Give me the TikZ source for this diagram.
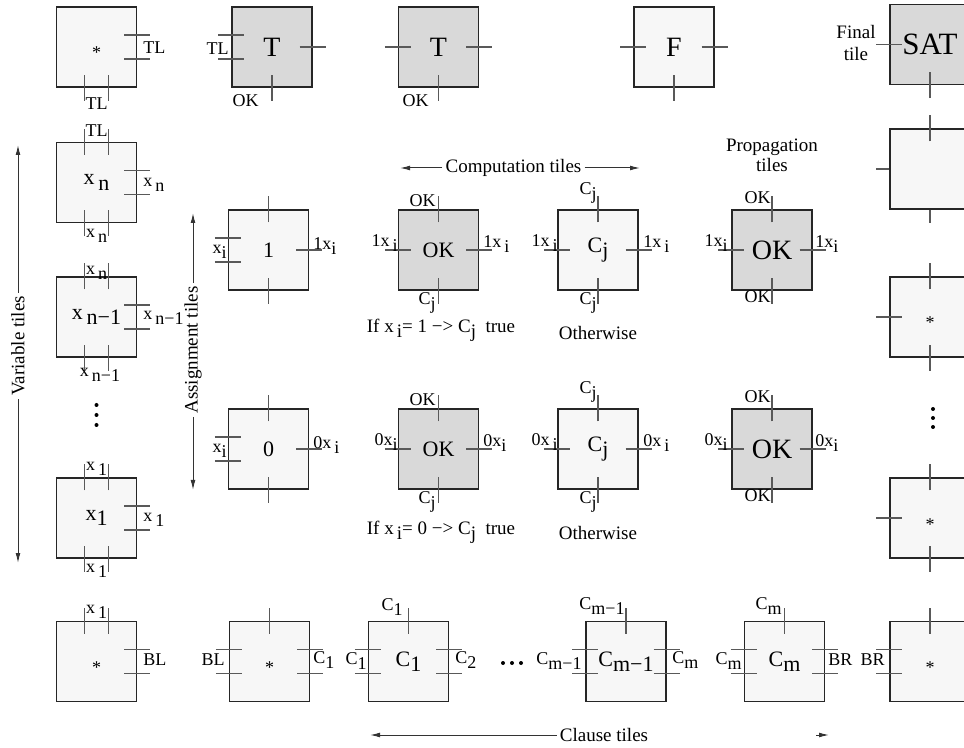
\documentclass[tikz,border=0pt]{standalone}
\usepackage{fontspec}
\setmainfont{Liberation Serif}
\usetikzlibrary{arrows.meta}

% lowered index, same size as the letter
\newcommand{\lw}[1]{\raisebox{-0.55ex}{#1}}
% single port mark across a tile side
\newcommand{\pR}[1]{\draw[port] ([xshift=-6.5pt]#1.east) -- ([xshift=6.5pt]#1.east);}
\newcommand{\pL}[1]{\draw[port] ([xshift=-6.5pt]#1.west) -- ([xshift=6.5pt]#1.west);}
\newcommand{\pT}[1]{\draw[port] ([yshift=-6.5pt]#1.north) -- ([yshift=6.5pt]#1.north);}
\newcommand{\pB}[1]{\draw[port] ([yshift=-6.5pt]#1.south) -- ([yshift=6.5pt]#1.south);}
% double port mark
\newcommand{\qR}[1]{\draw[port] ([shift={(-6.5pt,6pt)}]#1.east) -- ++(13pt,0) ([shift={(-6.5pt,-6pt)}]#1.east) -- ++(13pt,0);}
\newcommand{\qL}[1]{\draw[port] ([shift={(-6.5pt,6pt)}]#1.west) -- ++(13pt,0) ([shift={(-6.5pt,-6pt)}]#1.west) -- ++(13pt,0);}
\newcommand{\qT}[1]{\draw[port] ([shift={(-6pt,-6.5pt)}]#1.north) -- ++(0,13pt) ([shift={(6pt,-6.5pt)}]#1.north) -- ++(0,13pt);}
\newcommand{\qB}[1]{\draw[port] ([shift={(-6pt,-6.5pt)}]#1.south) -- ++(0,13pt) ([shift={(6pt,-6.5pt)}]#1.south) -- ++(0,13pt);}

\begin{document}
\begin{tikzpicture}[x=0.5pt,y=-0.5pt,
    tile/.style={draw=black!85,line width=0.6pt,fill=black!3,minimum size=40pt,inner sep=0pt},
    gtile/.style={tile,fill=black!15},
    port/.style={draw=black!65,line width=0.6pt},
    lbl/.style={inner sep=0pt,font=\fontsize{9}{10}\selectfont},
    capt/.style={inner sep=1.5pt,font=\fontsize{9.5}{10.5}\selectfont},
    arr/.style={draw=black!80,line width=0.5pt,-{Latex[length=5pt,width=2.4pt]}},
    startxt/.style={font=\fontsize{9}{9}\selectfont},
    midtxt/.style={font=\fontsize{11}{11}\selectfont},
    bigtxt/.style={font=\fontsize{14}{14}\selectfont}]
    \useasboundingbox (0,0) rectangle (964,748);

    % top row
    \node[tile,startxt] (vtop) at (96.5,47) {\raisebox{-6pt}[0pt][0pt]{*}};
    \node[gtile,bigtxt] (tt1) at (272,47) {T};
    \node[gtile,bigtxt] (tt2) at (438.5,47) {T};
    \node[tile,bigtxt] (tf) at (674,47) {F};
    \node[gtile,font=\fontsize{15.5}{15.5}\selectfont] (tsat) at (930,44.5) {SAT};
    \qR{vtop} \qB{vtop}
    \node[lbl,anchor=west] (ltla) at (143,48) {TL};
    \node[lbl] (ltlb) at (96.5,104) {TL};
    \qL{tt1} \pR{tt1} \pB{tt1}
    \node[lbl] (ltlc) at (217.5,49) {TL};
    \node[lbl,anchor=east] (loka) at (259,101) {OK};
    \pL{tt2} \pR{tt2} \pB{tt2}
    \node[lbl,anchor=east] (lokb) at (429,101) {OK};
    \pL{tf} \pR{tf} \pB{tf}
    \pL{tsat} \pB{tsat}
    \node[capt,align=center,font=\fontsize{9.5}{11}\selectfont] (final) at (856,43) {Final\\tile};

    % variable tiles
    \node[tile,midtxt] (vn) at (96.5,182.5) {x\,\lw{n}};
    \qT{vn} \qR{vn} \qB{vn}
    \node[lbl] (ltld) at (96.5,131) {TL};
    \node[lbl,anchor=west] (lxna) at (143,185) {x\,\lw{n}};
    \node[lbl] (lxnb) at (96.5,236) {x\,\lw{n}};
    \node[tile,midtxt] (vnm) at (96.5,317) {x\,\lw{n−1}};
    \qT{vnm} \qR{vnm} \qB{vnm}
    \node[lbl] (lxnc) at (96.5,273) {x\,\lw{n}};
    \node[lbl,anchor=west] (lxnma) at (143,318) {x\,\lw{n−1}};
    \node[lbl] (lxnmb) at (100,375) {x\,\lw{n−1}};
    \fill (96.5,405) circle (2) (96.5,415) circle (2) (96.5,425) circle (2);
    \node[tile,midtxt] (vone) at (96.5,518) {x\lw{1}};
    \qT{vone} \qR{vone} \qB{vone}
    \node[lbl] (lxoa) at (96.5,469) {x\,\lw{1}};
    \node[lbl,anchor=west] (lxob) at (143,520) {x\,\lw{1}};
    \node[lbl] (lxoc) at (96.5,571) {x\,\lw{1}};
    \node[tile,startxt] (vbl) at (96.5,661.5) {\raisebox{-6pt}[0pt][0pt]{*}};
    \qT{vbl} \qR{vbl}
    \node[lbl] (lxod) at (96.5,612) {x\,\lw{1}};
    \node[lbl,anchor=west] (lbla) at (143,660) {BL};

    \node[capt,rotate=90] (varl) at (18,346) {Variable tiles};
    \coordinate (varup) at (18,145);
    \coordinate (vardown) at (18,563);
    \draw[arr] (varl.east) -- (varup);
    \draw[arr] (varl.west) -- (vardown);

    % assignment tiles
    \node[capt,rotate=90] (asgl) at (193,350) {Assignment tiles};
    \coordinate (asgup) at (193,213);
    \coordinate (asgdown) at (193,490);
    \draw[arr] (asgl.east) -- (asgup);
    \draw[arr] (asgl.west) -- (asgdown);
    \node[tile,midtxt] (aone) at (268.5,250) {1};
    \pT{aone} \qL{aone} \pR{aone} \pB{aone}
    \node[lbl,anchor=east] (lxia) at (227,252) {x\lw{i}};
    \node[lbl,anchor=west] (lxib) at (313,246) {1x\lw{i}};
    \node[tile,midtxt] (azero) at (268.5,449) {0};
    \pT{azero} \qL{azero} \pR{azero} \pB{azero}
    \node[lbl,anchor=east] (lxic) at (227,451) {x\lw{i}};
    \node[lbl,anchor=west] (lxid) at (313,445) {0x\,\lw{i}};

    % computation tiles
    \node[capt] (compl) at (513.5,168) {Computation tiles};
    \coordinate (compleft) at (400,168);
    \coordinate (compright) at (640,168);
    \draw[arr] (compl.west) -- (compleft);
    \draw[arr] (compl.east) -- (compright);

    \node[gtile,midtxt] (okone) at (438.5,250) {OK};
    \pT{okone} \pL{okone} \pR{okone} \pB{okone}
    \node[lbl,anchor=east] (lokc) at (436,201) {OK};
    \node[lbl,anchor=east] (lxie) at (398,243) {1x\,\lw{i}};
    \node[lbl,anchor=west] (lxif) at (483,244) {1x\,\lw{i}};
    \node[lbl,anchor=east] (lcja) at (436,303) {C\lw{j}};
    \node[capt] (ifone) at (441,330) {If x\,\lw{i}= 1 −> C\lw{j}\ \ true};

    \node[tile,midtxt] (cjone) at (598,250) {C\lw{j}};
    \pT{cjone} \pL{cjone} \pR{cjone} \pB{cjone}
    \node[lbl,anchor=east] (lcjb) at (597,193) {C\lw{j}};
    \node[lbl,anchor=east] (lxig) at (558,243) {1x\,\lw{i}};
    \node[lbl,anchor=west] (lxih) at (643,244) {1x\,\lw{i}};
    \node[lbl,anchor=east] (lcjc) at (597,303) {C\lw{j}};
    \node[capt] (othone) at (598,333) {Otherwise};

    \node[gtile,midtxt] (okzero) at (438.5,449) {OK};
    \pT{okzero} \pL{okzero} \pR{okzero} \pB{okzero}
    \node[lbl,anchor=east] (lokd) at (436,400) {OK};
    \node[lbl,anchor=east] (lxii) at (398,442) {0x\lw{i}};
    \node[lbl,anchor=west] (lxij) at (483,443) {0x\lw{i}};
    \node[lbl,anchor=east] (lcjd) at (436,502) {C\lw{j}};
    \node[capt] (ifzero) at (441,532) {If x\,\lw{i}= 0 −> C\lw{j}\ \ true};

    \node[tile,midtxt] (cjzero) at (598,449) {C\lw{j}};
    \pT{cjzero} \pL{cjzero} \pR{cjzero} \pB{cjzero}
    \node[lbl,anchor=east] (lcje) at (597,392) {C\lw{j}};
    \node[lbl,anchor=east] (lxik) at (558,442) {0x\,\lw{i}};
    \node[lbl,anchor=west] (lxil) at (643,443) {0x\,\lw{i}};
    \node[lbl,anchor=east] (lcjf) at (597,502) {C\lw{j}};
    \node[capt] (othzero) at (598,533) {Otherwise};

    % propagation tiles
    \node[capt,align=center,font=\fontsize{9.5}{10}\selectfont] (propl) at (772,155) {Propagation\\tiles};
    \node[gtile,bigtxt] (prone) at (772,250) {OK};
    \pT{prone} \pL{prone} \pR{prone} \pB{prone}
    \node[lbl,anchor=east] (loke) at (771,198) {OK};
    \node[lbl,anchor=east] (lxim) at (728,243) {1x\lw{i}};
    \node[lbl,anchor=west] (lxin) at (815,244) {1x\lw{i}};
    \node[lbl,anchor=east] (lokf) at (771,297) {OK};
    \node[gtile,bigtxt] (przero) at (772,449) {OK};
    \pT{przero} \pL{przero} \pR{przero} \pB{przero}
    \node[lbl,anchor=east] (lokg) at (771,397) {OK};
    \node[lbl,anchor=east] (lxio) at (728,442) {0x\lw{i}};
    \node[lbl,anchor=west] (lxip) at (815,443) {0x\lw{i}};
    \node[lbl,anchor=east] (lokh) at (771,496) {OK};

    % right column
    \node[tile] (rone) at (930,169) {};
    \pT{rone}
    \draw[port] (rone.west) -- ++(-6.5pt,0);
    \draw[port] (rone.south) -- ++(0,-6.5pt);
    \node[tile,startxt] (rtwo) at (930,317) {\raisebox{-6pt}[0pt][0pt]{*}};
    \pT{rtwo} \pL{rtwo} \pB{rtwo}
    \fill (933,409) circle (2) (933,418) circle (2) (933,427) circle (2);
    \node[tile,startxt] (rthree) at (930,518) {\raisebox{-6pt}[0pt][0pt]{*}};
    \pT{rthree} \pL{rthree} \pB{rthree}
    \node[tile,startxt] (rbr) at (930,661.5) {\raisebox{-6pt}[0pt][0pt]{*}};
    \pT{rbr} \qL{rbr}
    \node[lbl,anchor=east] (lbra) at (885,660) {BR};

    % clause tiles
    \node[tile,startxt] (kbl) at (269.5,661.5) {\raisebox{-6pt}[0pt][0pt]{*}};
    \pT{kbl} \qL{kbl} \qR{kbl}
    \node[lbl,anchor=east] (lblb) at (225,660) {BL};
    \node[lbl,anchor=west] (lcka) at (313,660) {C\lw{1}};
    \node[tile,midtxt] (kcone) at (408.5,661.5) {C\lw{1}};
    \pT{kcone} \qL{kcone} \qR{kcone}
    \node[lbl,anchor=east] (lckb) at (403,607) {C\lw{1}};
    \node[lbl,anchor=east] (lckc) at (367,661) {C\lw{1}};
    \node[lbl,anchor=west] (lckd) at (455,660) {C\lw{2}};
    \fill (503,663) circle (2) (512,663) circle (2) (521,663) circle (2);
    \node[tile,midtxt] (kcmm) at (626,661.5) {C\lw{m−1}};
    \pT{kcmm} \qL{kcmm} \qR{kcmm}
    \node[lbl,anchor=east] (lcke) at (625,606) {C\lw{m−1}};
    \node[lbl,anchor=east] (lckf) at (582,661) {C\lw{m−1}};
    \node[lbl,anchor=west] (lckg) at (672,660) {C\lw{m}};
    \node[tile,midtxt] (kcm) at (784.5,661.5) {C\lw{m}};
    \pT{kcm} \qL{kcm} \qR{kcm}
    \node[lbl,anchor=east] (lckh) at (782,606) {C\lw{m}};
    \node[lbl,anchor=east] (lcki) at (742,661) {C\lw{m}};
    \node[lbl,anchor=west] (lbrb) at (828,660) {BR};

    \node[capt] (clausel) at (604,735) {Clause tiles};
    \coordinate (clleft) at (370,735);
    \coordinate (clfrom) at (816,735);
    \coordinate (clto) at (829,735);
    \draw[arr] (clausel.west) -- (clleft);
    \draw[arr] (clfrom) -- (clto);
\end{tikzpicture}
\end{document}
